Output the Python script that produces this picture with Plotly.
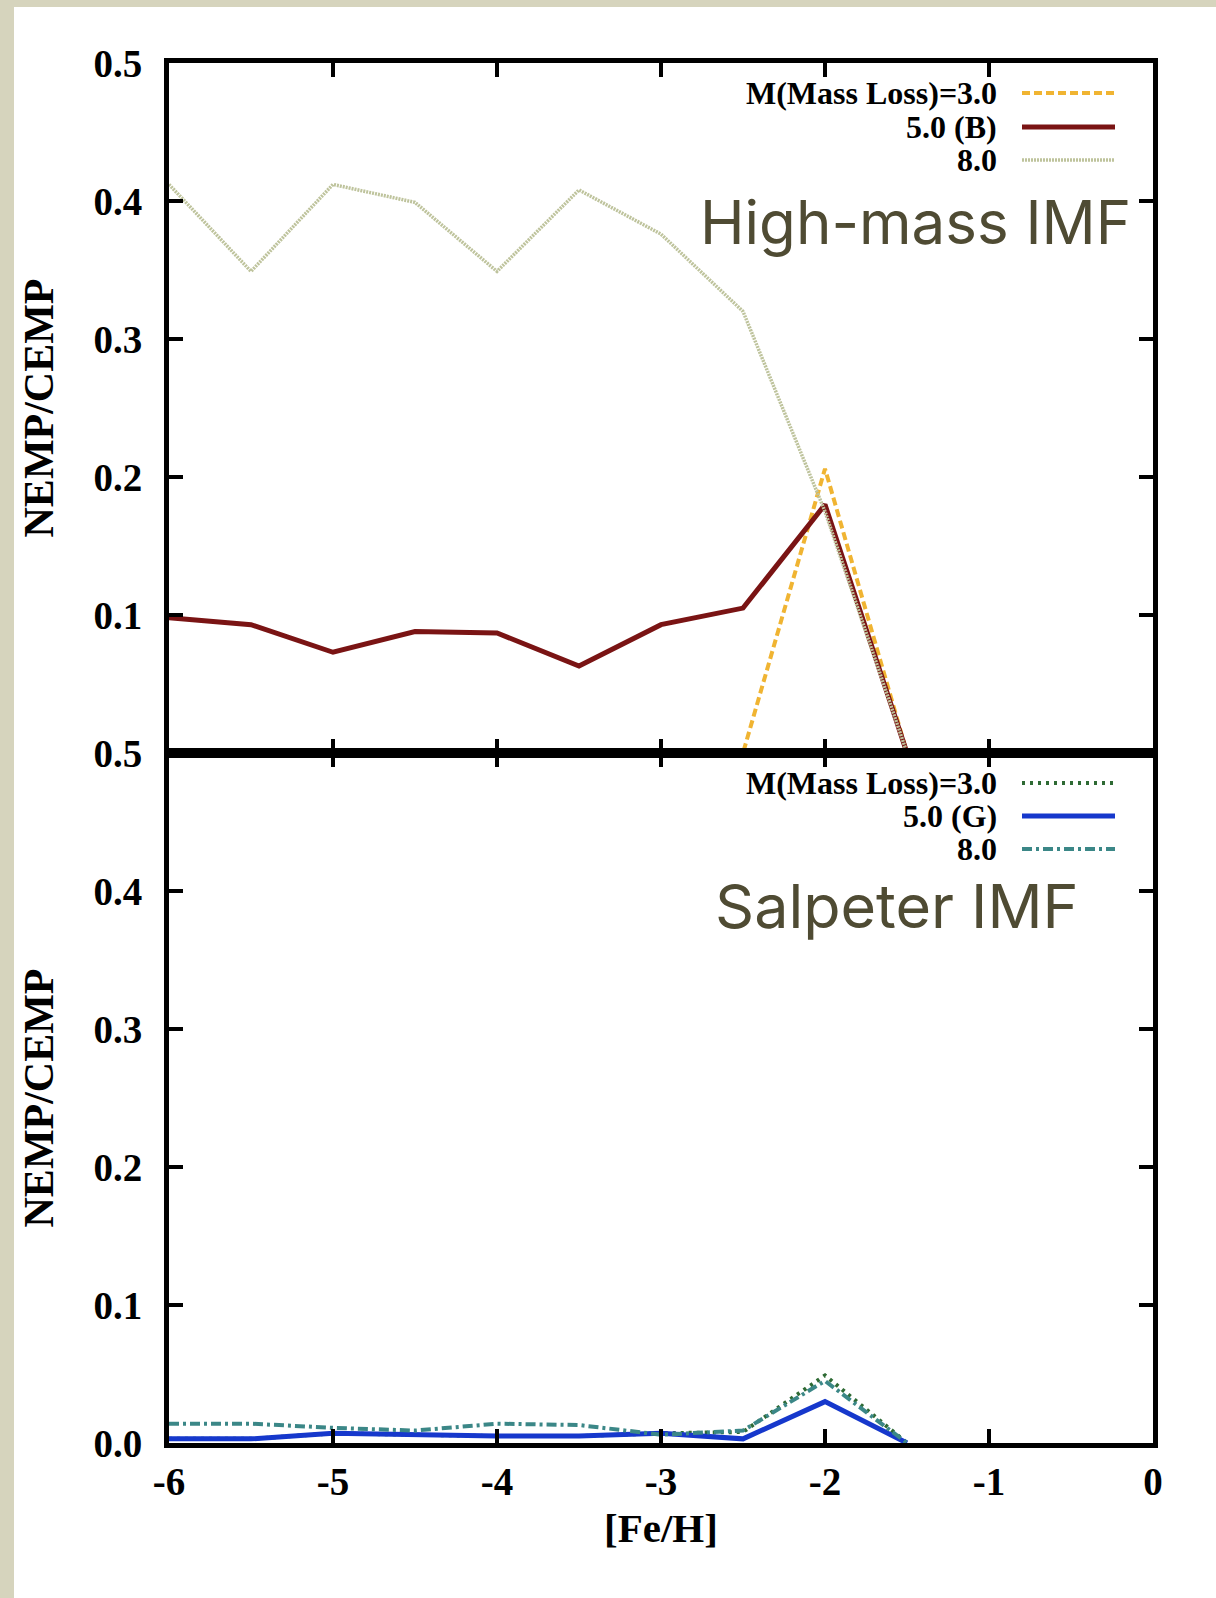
import plotly.graph_objects as go
from plotly.subplots import make_subplots

# ---------------- data ----------------
feh = [-6.0, -5.5, -5.0, -4.5, -4.0, -3.5, -3.0, -2.5, -2.0, -1.5]

# High-mass IMF panel
hm_m30 = [0.0, 0.0, 0.0, 0.0, 0.0, 0.0, 0.0, 0.0, 0.206, 0.0]
hm_m50 = [0.098, 0.093, 0.073, 0.088, 0.087, 0.063, 0.093, 0.105, 0.180, 0.0]
hm_m80 = [0.412, 0.349, 0.412, 0.399, 0.349, 0.408, 0.376, 0.320, 0.175, 0.0]

# Salpeter IMF panel
sp_m30 = [0.003, 0.003, 0.007, 0.006, 0.005, 0.005, 0.007, 0.008, 0.049, 0.0]
sp_m50 = [0.003, 0.003, 0.007, 0.006, 0.005, 0.005, 0.007, 0.003, 0.030, 0.0]
sp_m80 = [0.014, 0.014, 0.011, 0.009, 0.014, 0.013, 0.006, 0.009, 0.045, 0.0]

names_top = ["M(Mass Loss)=3.0", "5.0 (B)", "8.0"]
names_bot = ["M(Mass Loss)=3.0", "5.0 (G)", "8.0"]

x_tickvals = [-6, -5, -4, -3, -2, -1, 0]
x_ticktext = ["-6", "-5", "-4", "-3", "-2", "-1", "0"]
y_top_tickvals = [0.1, 0.2, 0.3, 0.4, 0.5]
y_top_ticktext = ["0.1", "0.2", "0.3", "0.4", "0.5"]
y_bot_tickvals = [0.0, 0.1, 0.2, 0.3, 0.4, 0.5]
y_bot_ticktext = ["0.0", "0.1", "0.2", "0.3", "0.4", "0.5"]

# ---------------- styles ----------------
W, H = 1216, 1598
ML, MR, MT, MB = 169, 63, 63, 155
PW = W - ML - MR
PH = H - MT - MB

def px_x(px):
    return (px - ML) / PW

def px_y(py):
    return (H - MB - py) / PH

SERIF = "Liberation Serif"
styles_top = [
    dict(color="#f0b432", width=4, dash="8px,4px"),
    dict(color="#7a1414", width=5, dash="solid"),
    dict(color="#bec39c", width=3.5, dash="2px,1px"),
]
styles_bot = [
    dict(color="#2e6a34", width=4, dash="3px,5px"),
    dict(color="#1638cc", width=5, dash="solid"),
    dict(color="#3b8787", width=4, dash="10px,4px,3px,4px"),
]

fig = make_subplots(rows=2, cols=1, shared_xaxes=True, vertical_spacing=0)

for name, ys, st in zip(names_top, [hm_m30, hm_m50, hm_m80], styles_top):
    fig.add_trace(go.Scatter(x=feh, y=ys, mode="lines", name=name, line=st,
                             showlegend=False), row=1, col=1)
for name, ys, st in zip(names_bot, [sp_m30, sp_m50, sp_m80], styles_bot):
    fig.add_trace(go.Scatter(x=feh, y=ys, mode="lines", name=name, line=st,
                             showlegend=False), row=2, col=1)

axis_common = dict(showline=True, linewidth=5, linecolor="black", mirror="allticks",
                   ticks="inside", ticklen=14, tickwidth=4, tickcolor="black",
                   showgrid=False, zeroline=False,
                   tickfont=dict(family=SERIF, size=39, color="black", weight="bold"))

fig.update_xaxes(range=[-6, 0], tickvals=x_tickvals, ticktext=x_ticktext, **axis_common)
fig.update_xaxes(showticklabels=False, row=1, col=1)
fig.update_xaxes(row=2, col=1, ticklabelstandoff=0,
                 title=dict(text="[Fe/H]", standoff=13,
                            font=dict(family=SERIF, size=41, color="black", weight="bold")))

ytitle = dict(text="NEMP/CEMP", standoff=28,
              font=dict(family=SERIF, size=42, color="black", weight="bold"))
fig.update_yaxes(range=[0, 0.5], **axis_common)
fig.update_yaxes(row=1, col=1, tickvals=y_top_tickvals, ticktext=y_top_ticktext,
                 ticklabelstandoff=14, title=ytitle)
fig.update_yaxes(row=2, col=1, tickvals=y_bot_tickvals, ticktext=y_bot_ticktext,
                 ticklabelstandoff=14, title=ytitle)

annotations = []
shapes = []
# white panel over beige frame
shapes.append(dict(type="rect", xref="paper", yref="paper", layer="below",
                   x0=px_x(14), x1=px_x(W + 5), y0=px_y(H + 5), y1=px_y(7),
                   fillcolor="white", line=dict(width=0)))

# manual legends (text left of the line sample)
legend_rows_top = [93, 127, 160]
legend_rows_bot = [783, 816, 849]
for names, rows, styles in [(names_top, legend_rows_top, styles_top),
                            (names_bot, legend_rows_bot, styles_bot)]:
    for nm, ry, st in zip(names, rows, styles):
        annotations.append(dict(text=nm, xref="paper", yref="paper",
                                x=px_x(999), y=px_y(ry), xanchor="right", yanchor="middle",
                                showarrow=False,
                                font=dict(family=SERIF, size=32, color="black", weight="bold")))
        shapes.append(dict(type="line", xref="paper", yref="paper", layer="above",
                           x0=px_x(1022), x1=px_x(1115), y0=px_y(ry), y1=px_y(ry),
                           line=dict(color=st["color"], width=st["width"], dash=st["dash"])))

annotations.append(dict(text="High-mass IMF", xref="paper", yref="paper",
                        x=px_x(698), y=px_y(222), xanchor="left", yanchor="middle",
                        showarrow=False,
                        font=dict(family="Inter", size=60, color="#4f4b33")))
annotations.append(dict(text="Salpeter IMF", xref="paper", yref="paper",
                        x=px_x(713), y=px_y(906), xanchor="left", yanchor="middle",
                        showarrow=False,
                        font=dict(family="Inter", size=61, color="#4f4b33")))

fig.update_layout(width=W, height=H, margin=dict(l=ML, r=MR, t=MT, b=MB),
                  paper_bgcolor="#d6d4bd", plot_bgcolor="white",
                  showlegend=False, annotations=annotations, shapes=shapes)

fig.write_html("out.html")
